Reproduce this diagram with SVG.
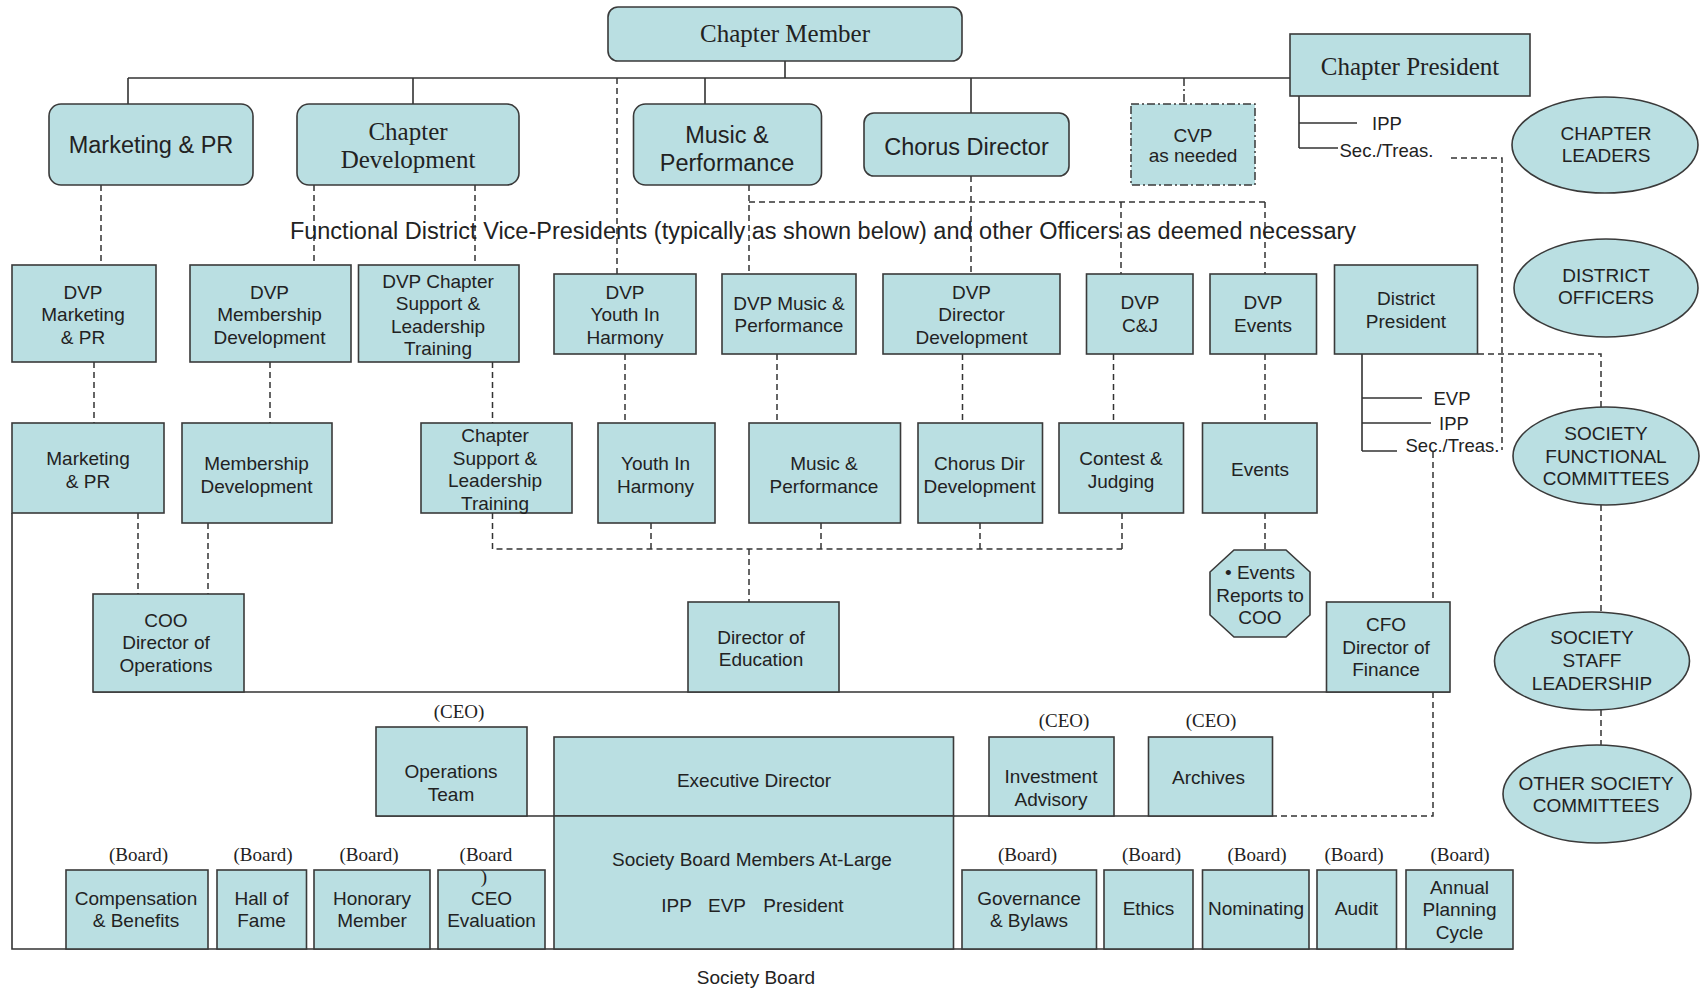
<svg xmlns="http://www.w3.org/2000/svg" width="1701" height="990" viewBox="0 0 1701 990">
<style>
.box{fill:#badfe2;stroke:#3a3a3a;stroke-width:1.6}
.t{font-family:"Liberation Sans",Arial,sans-serif;font-size:19px;fill:#222;text-anchor:middle}
.tl{font-family:"Liberation Sans",Arial,sans-serif;font-size:18.5px;fill:#222;text-anchor:start}
.big{font-size:23.5px}
.sf{font-family:"Liberation Serif","Times New Roman",serif;font-size:25px;fill:#222;text-anchor:middle}
.lab{font-family:"Liberation Serif","Times New Roman",serif;font-size:19px;fill:#222;text-anchor:middle}
.ln{stroke:#333;stroke-width:1.6;fill:none}
.d{stroke:#333;stroke-width:1.5;fill:none;stroke-dasharray:6 4}
.dd{stroke:#333;stroke-width:1.5;fill:none;stroke-dasharray:8 3 2 3}
</style>
<rect width="1701" height="990" fill="#fff"/>
<g id="connectors">
<path class="ln" d="M785 61V78M128 78H1290M128 78V104M413 78V104M705 78V113M705 78V104M971 78V113"/>
<path class="dd" d="M1184 78V104"/>
<path class="ln" d="M1299 96V148M1299 123H1357M1299 148H1338"/>
<path class="ln" d="M1362 354V451M1362 398H1422M1362 423H1431M1362 451H1397"/>
<path class="ln" d="M12 513V949H1513M93 692H1450M376 816H1272"/>
<path class="d" d="M101 185V265M314 185V265M475 185V265M617 78V274M749 185V274M749 202H1265M971 176V274M1121 202V274M1265 202V274"/>
<path class="d" d="M1451 158H1502V450M1478 354H1601V407M1601 505V612M1601 710V745"/>
<path class="d" d="M94 362V423M270 362V423M492.5 362V423M625 354V423M777 354V423M962.5 354V423M1113.5 354V423M1265 354V423"/>
<path class="d" d="M138 513V594M208 523V594M492.5 513V549H1122M651 523V549M821 523V549M980 523V549M1122 513V549M749 549V602M1265 513V550"/>
<path class="d" d="M1433 452V602M1433 692V816H1272"/>
</g>
<text class="t big" x="823" y="239" font-size="22">Functional District Vice-Presidents (typically as shown below) and other Officers as deemed necessary</text>
<g id="chapter-member"><rect class="box" x="608" y="7" width="354" height="54" rx="10"/><text class="sf" x="785" y="42">Chapter Member</text></g>
<g id="marketing-pr-top"><rect class="box" x="49" y="104" width="204" height="81" rx="12"/><text class="t big" x="151" y="153">Marketing &amp; PR</text></g>
<g id="chapter-development"><rect class="box" x="297" y="104" width="222" height="81" rx="12"/><text class="sf" x="408" y="139.5">Chapter<tspan x="408" dy="28.3">Development</tspan></text></g>
<g id="music-performance-top"><rect class="box" x="633.5" y="104" width="188" height="81" rx="12"/><text class="t big" x="727" y="142.5">Music &amp;<tspan x="727" dy="28.4">Performance</tspan></text></g>
<g id="chorus-director"><rect class="box" x="864" y="113" width="205" height="63" rx="10"/><text class="t big" x="966.5" y="155">Chorus Director</text></g>
<g id="cvp"><rect x="1131" y="104" width="124" height="81" fill="#badfe2" stroke="#3a3a3a" stroke-width="1.5" stroke-dasharray="8 3 2 3"/><text class="t" x="1193" y="142">CVP<tspan x="1193" dy="20">as needed</tspan></text></g>
<g id="chapter-president"><rect class="box" x="1290" y="34" width="240" height="62"/><text class="sf" x="1410" y="75" font-size="25.5">Chapter President</text><text class="tl" x="1372" y="130">IPP</text><text class="tl" x="1339.5" y="157">Sec./Treas.</text></g>
<g id="chapter-leaders"><ellipse class="box" cx="1605" cy="145" rx="93" ry="48"/><text class="t" x="1606" y="140">CHAPTER<tspan x="1606" dy="22">LEADERS</tspan></text></g>
<g id="district-officers"><ellipse class="box" cx="1606" cy="288" rx="92" ry="49"/><text class="t" x="1606" y="282">DISTRICT<tspan x="1606" dy="22">OFFICERS</tspan></text></g>
<g id="society-functional-committees"><ellipse class="box" cx="1606" cy="456" rx="93" ry="49"/><text class="t" x="1606" y="440">SOCIETY<tspan x="1606" dy="22.5">FUNCTIONAL</tspan><tspan x="1606" dy="22.5">COMMITTEES</tspan></text></g>
<g id="society-staff-leadership"><ellipse class="box" cx="1592" cy="661" rx="97.5" ry="49"/><text class="t" x="1592" y="643.5">SOCIETY<tspan x="1592" dy="23.3">STAFF</tspan><tspan x="1592" dy="23.3">LEADERSHIP</tspan></text></g>
<g id="other-society-committees"><ellipse class="box" cx="1597" cy="794" rx="94" ry="49"/><text class="t" x="1596" y="790">OTHER SOCIETY<tspan x="1596" dy="21.5">COMMITTEES</tspan></text></g>
<g id="dvp-marketing"><rect class="box" x="12" y="265" width="144" height="97"/><text class="t" x="83" y="298.5">DVP<tspan x="83" dy="22.5">Marketing</tspan><tspan x="83" dy="22.5">&amp; PR</tspan></text></g>
<g id="dvp-membership"><rect class="box" x="190" y="265" width="161" height="97"/><text class="t" x="269.5" y="298.5">DVP<tspan x="269.5" dy="22.5">Membership</tspan><tspan x="269.5" dy="22.5">Development</tspan></text></g>
<g id="dvp-chapter-support"><rect class="box" x="358.5" y="265" width="160.5" height="97"/><text class="t" x="438" y="287.5">DVP Chapter<tspan x="438" dy="22.5">Support &amp;</tspan><tspan x="438" dy="22.5">Leadership</tspan><tspan x="438" dy="22.5">Training</tspan></text></g>
<g id="dvp-youth"><rect class="box" x="554" y="274" width="142" height="80"/><text class="t" x="625" y="298.5">DVP<tspan x="625" dy="22.5">Youth In</tspan><tspan x="625" dy="22.5">Harmony</tspan></text></g>
<g id="dvp-music"><rect class="box" x="722" y="274" width="134" height="80"/><text class="t" x="789" y="309.5">DVP Music &amp;<tspan x="789" dy="22.5">Performance</tspan></text></g>
<g id="dvp-director"><rect class="box" x="883" y="274" width="177" height="80"/><text class="t" x="971.5" y="298.5">DVP<tspan x="971.5" dy="22.5">Director</tspan><tspan x="971.5" dy="22.5">Development</tspan></text></g>
<g id="dvp-cj"><rect class="box" x="1086.5" y="274" width="106.5" height="80"/><text class="t" x="1140" y="309">DVP<tspan x="1140" dy="23">C&amp;J</tspan></text></g>
<g id="dvp-events"><rect class="box" x="1210" y="274" width="106.5" height="80"/><text class="t" x="1263" y="309">DVP<tspan x="1263" dy="23">Events</tspan></text></g>
<g id="district-president"><rect class="box" x="1334.5" y="265" width="143" height="89"/><text class="t" x="1406" y="305">District<tspan x="1406" dy="22.5">President</tspan></text><text class="tl" x="1433.5" y="405">EVP</text><text class="tl" x="1439" y="430">IPP</text><text class="tl" x="1405.5" y="452">Sec./Treas.</text></g>
<g id="marketing-pr"><rect class="box" x="12" y="423" width="152" height="90"/><text class="t" x="88" y="465">Marketing<tspan x="88" dy="22.5">&amp; PR</tspan></text></g>
<g id="membership-development"><rect class="box" x="182" y="423" width="150" height="100"/><text class="t" x="256.5" y="470">Membership<tspan x="256.5" dy="22.5">Development</tspan></text></g>
<g id="chapter-support"><rect class="box" x="421" y="423" width="151" height="90"/><text class="t" x="495" y="442">Chapter<tspan x="495" dy="22.5">Support &amp;</tspan><tspan x="495" dy="22.5">Leadership</tspan><tspan x="495" dy="22.5">Training</tspan></text></g>
<g id="youth-in-harmony"><rect class="box" x="598" y="423" width="117" height="100"/><text class="t" x="655.5" y="470">Youth In<tspan x="655.5" dy="22.5">Harmony</tspan></text></g>
<g id="music-performance"><rect class="box" x="749" y="423" width="151.5" height="100"/><text class="t" x="824" y="470">Music &amp;<tspan x="824" dy="22.5">Performance</tspan></text></g>
<g id="chorus-dir-development"><rect class="box" x="918" y="423" width="124.5" height="100"/><text class="t" x="979.5" y="470">Chorus Dir<tspan x="979.5" dy="22.5">Development</tspan></text></g>
<g id="contest-judging"><rect class="box" x="1059" y="423" width="124.5" height="90"/><text class="t" x="1121" y="465">Contest &amp;<tspan x="1121" dy="22.5">Judging</tspan></text></g>
<g id="events"><rect class="box" x="1202.5" y="423" width="114.5" height="90"/><text class="t" x="1260" y="476">Events</text></g>
<g id="coo"><rect class="box" x="93" y="594" width="151" height="98"/><text class="t" x="166" y="626.5">COO<tspan x="166" dy="22.7">Director of</tspan><tspan x="166" dy="22.7">Operations</tspan></text></g>
<g id="director-of-education"><rect class="box" x="688" y="602" width="151" height="90"/><text class="t" x="761" y="643.5">Director of<tspan x="761" dy="22.5">Education</tspan></text></g>
<g id="events-reports"><polygon class="box" points="1234,550 1286,550 1310,572 1310,615 1286,637 1234,637 1210,615 1210,572"/><text class="t" x="1260" y="579">• Events<tspan x="1260" dy="22.7">Reports to</tspan><tspan x="1260" dy="22.7">COO</tspan></text></g>
<g id="cfo"><rect class="box" x="1326.5" y="602" width="123.5" height="90"/><text class="t" x="1386" y="631">CFO<tspan x="1386" dy="22.7">Director of</tspan><tspan x="1386" dy="22.7">Finance</tspan></text></g>
<g id="operations-team"><text class="lab" x="459" y="717.5">(CEO)</text><rect class="box" x="376" y="727" width="151" height="89"/><text class="t" x="451" y="778">Operations<tspan x="451" dy="23">Team</tspan></text></g>
<g id="executive-director"><rect class="box" x="554" y="737" width="399.5" height="79"/><text class="t" x="754" y="787">Executive Director</text></g>
<g id="investment-advisory"><text class="lab" x="1064" y="726.5">(CEO)</text><rect class="box" x="989" y="737" width="125" height="79"/><text class="t" x="1051" y="782.5">Investment<tspan x="1051" dy="23">Advisory</tspan></text></g>
<g id="archives"><text class="lab" x="1211" y="726.5">(CEO)</text><rect class="box" x="1148.5" y="737" width="124" height="79"/><text class="t" x="1208.5" y="783.5">Archives</text></g>
<g id="society-board-members"><rect class="box" x="554" y="816" width="399.5" height="133"/><text class="t" x="752" y="866">Society Board Members At-Large</text><text class="t" x="676.5" y="912">IPP</text><text class="t" x="727" y="912">EVP</text><text class="t" x="803.5" y="912">President</text></g>
<g id="compensation"><text class="lab" x="138.5" y="860.5">(Board)</text><rect class="box" x="66" y="870" width="142" height="79"/><text class="t" x="136" y="905">Compensation<tspan x="136" dy="22.2">&amp; Benefits</tspan></text></g>
<g id="hall-of-fame"><text class="lab" x="263" y="860.5">(Board)</text><rect class="box" x="217" y="870" width="89.5" height="79"/><text class="t" x="261.5" y="905">Hall of<tspan x="261.5" dy="22.2">Fame</tspan></text></g>
<g id="honorary-member"><text class="lab" x="369" y="860.5">(Board)</text><rect class="box" x="314" y="870" width="116" height="79"/><text class="t" x="372" y="905">Honorary<tspan x="372" dy="22.2">Member</tspan></text></g>
<g id="ceo-evaluation"><text class="lab" x="486" y="860.5">(Board</text><rect class="box" x="438" y="870" width="107" height="79"/><text class="lab" x="484" y="883">)</text><text class="t" x="491.5" y="905">CEO<tspan x="491.5" dy="22.2">Evaluation</tspan></text></g>
<g id="governance"><text class="lab" x="1027.5" y="860.5">(Board)</text><rect class="box" x="962" y="870" width="134.5" height="79"/><text class="t" x="1029" y="905">Governance<tspan x="1029" dy="22.2">&amp; Bylaws</tspan></text></g>
<g id="ethics"><text class="lab" x="1151.5" y="860.5">(Board)</text><rect class="box" x="1104" y="870" width="89" height="79"/><text class="t" x="1148.5" y="915">Ethics</text></g>
<g id="nominating"><text class="lab" x="1257" y="860.5">(Board)</text><rect class="box" x="1202.5" y="870" width="106.5" height="79"/><text class="t" x="1256" y="915">Nominating</text></g>
<g id="audit"><text class="lab" x="1354" y="860.5">(Board)</text><rect class="box" x="1317" y="870" width="79.5" height="79"/><text class="t" x="1356.5" y="915">Audit</text></g>
<g id="annual-planning"><text class="lab" x="1460" y="860.5">(Board)</text><rect class="box" x="1406" y="870" width="107" height="79"/><text class="t" x="1459.5" y="893.5">Annual<tspan x="1459.5" dy="22.5">Planning</tspan><tspan x="1459.5" dy="22.5">Cycle</tspan></text></g>
<text class="t" x="756" y="984">Society Board</text>
</svg>
